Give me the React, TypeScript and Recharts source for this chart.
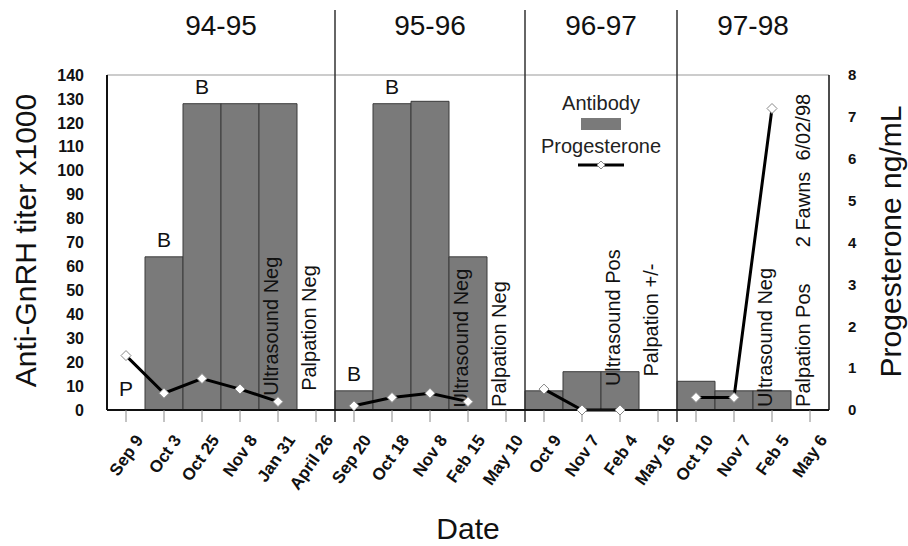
import {
  ComposedChart,
  Bar,
  Line,
  XAxis,
  YAxis,
  ReferenceLine,
  ReferenceArea,
  ReferenceDot,
  Legend,
} from "recharts";

const FONT = "'Liberation Sans', Arial, sans-serif";
const INK = "#111";
const BAR_FILL = "#7a7a7a";

// --- Data ---
const SEASONS = ["94-95", "95-96", "96-97", "97-98"];
const DATES = [
  "Sep 9", "Oct 3", "Oct 25", "Nov 8", "Jan 31", "April 26",
  "Sep 20", "Oct 18", "Nov 8", "Feb 15", "May 10",
  "Oct 9", "Nov 7", "Feb 4", "May 16",
  "Oct 10", "Nov 7", "Feb 5", "May 6",
];
const SEASON_OF = [0, 0, 0, 0, 0, 0, 1, 1, 1, 1, 1, 2, 2, 2, 2, 3, 3, 3, 3];
// Anti-GnRH titer x1000
const ANTIBODY = [0, 64, 128, 128, 128, null, 8, 128, 129, 64, null, 8, 16, 16, null, 12, 8, 8, null];
// Progesterone ng/mL
const PROGESTERONE = [1.3, 0.4, 0.75, 0.5, 0.2, null, 0.1, 0.3, 0.4, 0.2, null, 0.5, 0, 0, null, 0.3, 0.3, 7.2, null];
// letters above bars (P = pre, B = boost)
const BAR_NOTES = ["P", "B", "B", null, null, null, "B", "B", null, null, null, null, null, null, null, null, null, null, null];
const LEFT_TICKS = [0, 10, 20, 30, 40, 50, 60, 70, 80, 90, 100, 110, 120, 130, 140];
const RIGHT_TICKS = [0, 1, 2, 3, 4, 5, 6, 7, 8];
// vertical notes: date index, text, starting titer level
const NOTE_AT = [4, 5, 9, 10, 13, 14, 17, 18, 18];
const NOTE_TEXT = [
  "Ultrasound Neg", "Palpation Neg", "Ultrasound Neg", "Palpation Neg",
  "Ultrasound Pos", "Palpation +/-", "Ultrasound Neg", "Palpation Pos", "2 Fawns  6/02/98",
];
const NOTE_BASE = [6, 8, 1, 1.3, 10, 14, 1.3, 1.3, 68];

const keyOf = (i: number) => `${SEASONS[SEASON_OF[i]]} ${DATES[i]}`;
const LABEL_OF: Record<string, string> = {};
DATES.forEach((d, i) => (LABEL_OF[keyOf(i)] = d));

const data = DATES.map((d, i) => ({
  key: keyOf(i),
  antibody: ANTIBODY[i],
  progesterone: PROGESTERONE[i],
}));

const seasonSpans = SEASONS.map((name, si) => {
  const idx = SEASON_OF.map((s, i) => (s === si ? i : -1)).filter((i) => i >= 0);
  return { name, first: keyOf(idx[0]), last: keyOf(idx[idx.length - 1]) };
});

function DateTick(props: any) {
  const { x, y, payload } = props;
  const tx = x + 18;
  const ty = y + 16;
  return (
    <text
      x={tx}
      y={ty}
      transform={`rotate(-55 ${tx} ${ty})`}
      textAnchor="end"
      fontFamily={FONT}
      fontSize={17}
      fontWeight="bold"
      fill={INK}
    >
      {LABEL_OF[payload.value]}
    </text>
  );
}

function Diamond(props: any) {
  const { cx, cy, index } = props;
  if (cx == null || cy == null || props.value == null) return <g key={`d-${index}`} />;
  return (
    <path
      key={`d-${index}`}
      d={`M${cx},${cy - 5}L${cx + 5},${cy}L${cx},${cy + 5}L${cx - 5},${cy}Z`}
      fill="#fff"
      stroke="#888"
      strokeWidth={1}
    />
  );
}

function LegendBox() {
  return (
    <div
      style={{
        display: "flex",
        flexDirection: "column",
        alignItems: "center",
        fontFamily: FONT,
        fontSize: 20,
        color: "#222",
      }}
    >
      <span style={{ lineHeight: "22px" }}>Antibody</span>
      <div style={{ width: 40, height: 12, background: BAR_FILL, marginTop: 4 }} />
      <span style={{ lineHeight: "22px", marginTop: 5 }}>Progesterone</span>
      <svg width={46} height={10} style={{ marginTop: 3 }}>
        <line x1={0} y1={5} x2={46} y2={5} stroke="#000" strokeWidth={3} />
        <path d="M23,1L27,5L23,9L19,5Z" fill="#fff" stroke="#888" />
      </svg>
    </div>
  );
}

export default function App() {
  return (
    <div style={{ position: "absolute", left: 0, top: 0, background: "#fff" }}>
      <ComposedChart
        width={908}
        height={546}
        data={data}
        margin={{ top: 75, right: 0, bottom: 0, left: 0 }}
        barCategoryGap={0}
        barGap={0}
      >
        <XAxis
          dataKey="key"
          height={136}
          interval={0}
          tickSize={12}
          tickMargin={2}
          axisLine={{ stroke: INK, strokeWidth: 2 }}
          tickLine={{ stroke: "#888" }}
          tick={(p: any) => <DateTick {...p} />}
          label={{
            content: ({ viewBox }: any) => (
              <text
                x={viewBox.x + viewBox.width / 2}
                y={viewBox.y + 118}
                textAnchor="middle"
                dominantBaseline="central"
                fontFamily={FONT}
                fontSize={30}
                fill={INK}
              >
                Date
              </text>
            ),
          }}
        />
        <YAxis
          yAxisId="left"
          domain={[0, 140]}
          ticks={LEFT_TICKS}
          interval={0}
          width={107}
          tickLine={false}
          tickSize={6}
          tickMargin={17}
          axisLine={{ stroke: INK, strokeWidth: 2 }}
          tick={{ fontFamily: FONT, fontSize: 16, fontWeight: "bold", fill: INK }}
          label={{
            content: ({ viewBox }: any) => {
              const cx = viewBox.x + 25;
              const cy = viewBox.y + viewBox.height / 2 - 2;
              return (
                <text
                  x={cx}
                  y={cy}
                  transform={`rotate(-90 ${cx} ${cy})`}
                  textAnchor="middle"
                  dominantBaseline="central"
                  fontFamily={FONT}
                  fontSize={30}
                  fill={INK}
                >
                  Anti-GnRH titer x1000
                </text>
              );
            },
          }}
        />
        <YAxis
          yAxisId="right"
          orientation="right"
          domain={[0, 8]}
          ticks={RIGHT_TICKS}
          interval={0}
          width={79}
          tickLine={false}
          tickSize={6}
          tickMargin={13}
          axisLine={{ stroke: INK, strokeWidth: 1.5 }}
          tick={{ fontFamily: FONT, fontSize: 15, fontWeight: "bold", fill: INK }}
          label={{
            content: ({ viewBox }: any) => {
              const cx = viewBox.x + 61;
              const cy = viewBox.y + viewBox.height / 2 - 1;
              return (
                <text
                  x={cx}
                  y={cy}
                  transform={`rotate(-90 ${cx} ${cy})`}
                  textAnchor="middle"
                  dominantBaseline="central"
                  fontFamily={FONT}
                  fontSize={30}
                  fill={INK}
                >
                  Progesterone ng/mL
                </text>
              );
            },
          }}
        />

        {/* top frame line */}
        <ReferenceLine yAxisId="left" y={140} stroke="#999" strokeWidth={1} />

        {/* season titles */}
        {seasonSpans.map((s) => (
          <ReferenceArea
            key={s.name}
            yAxisId="left"
            x1={s.first}
            x2={s.last}
            ifOverflow="visible"
            shape={(p: any) => (
              <text
                x={p.x + p.width / 2}
                y={p.y - 50}
                textAnchor="middle"
                dominantBaseline="central"
                fontFamily={FONT}
                fontSize={28}
                fill={INK}
              >
                {s.name}
              </text>
            )}
          />
        ))}

        <Bar
          yAxisId="left"
          dataKey="antibody"
          fill={BAR_FILL}
          stroke="#3a3a3a"
          strokeWidth={1}
          isAnimationActive={false}
        />

        {/* P / B letters above the bars */}
        {BAR_NOTES.map((t, i) =>
          t ? (
            <ReferenceDot
              key={`bn-${i}`}
              yAxisId="left"
              x={keyOf(i)}
              y={ANTIBODY[i] ?? 0}
              ifOverflow="visible"
              shape={(p: any) => (
                <text
                  x={p.cx}
                  y={p.cy - (t === "P" ? 14 : 10)}
                  textAnchor="middle"
                  fontFamily={FONT}
                  fontSize={21}
                  fill={INK}
                >
                  {t}
                </text>
              )}
            />
          ) : null
        )}

        {/* season dividers */}
        {seasonSpans.slice(0, -1).map((s) => (
          <ReferenceLine
            key={`div-${s.name}`}
            yAxisId="left"
            x={s.last}
            position="end"
            ifOverflow="visible"
            shape={(p: any) => (
              <line
                x1={p.x1}
                x2={p.x2}
                y1={Math.min(p.y1, p.y2) - 65}
                y2={Math.max(p.y1, p.y2) + 12}
                stroke="#333"
                strokeWidth={1.5}
              />
            )}
          />
        ))}

        {/* vertical notes */}
        {NOTE_AT.map((i, n) => (
          <ReferenceDot
            key={`note-${n}`}
            yAxisId="left"
            x={keyOf(i)}
            y={NOTE_BASE[n]}
            ifOverflow="visible"
            shape={(p: any) => (
              <text
                x={p.cx}
                y={p.cy}
                transform={`rotate(-90 ${p.cx} ${p.cy})`}
                textAnchor="start"
                fontFamily={FONT}
                fontSize={20}
                fill={INK}
                style={{ whiteSpace: "pre" }}
              >
                {NOTE_TEXT[n]}
              </text>
            )}
          />
        ))}

        <Line
          yAxisId="right"
          dataKey="progesterone"
          stroke="#000"
          strokeWidth={3}
          dot={(p: any) => <Diamond {...p} />}
          activeDot={false}
          connectNulls={false}
          isAnimationActive={false}
        />

        <Legend
          layout="vertical"
          align="center"
          verticalAlign="middle"
          wrapperStyle={{ position: "absolute", left: 541, top: 92, width: 120 }}
          content={() => <LegendBox />}
        />
      </ComposedChart>
    </div>
  );
}
